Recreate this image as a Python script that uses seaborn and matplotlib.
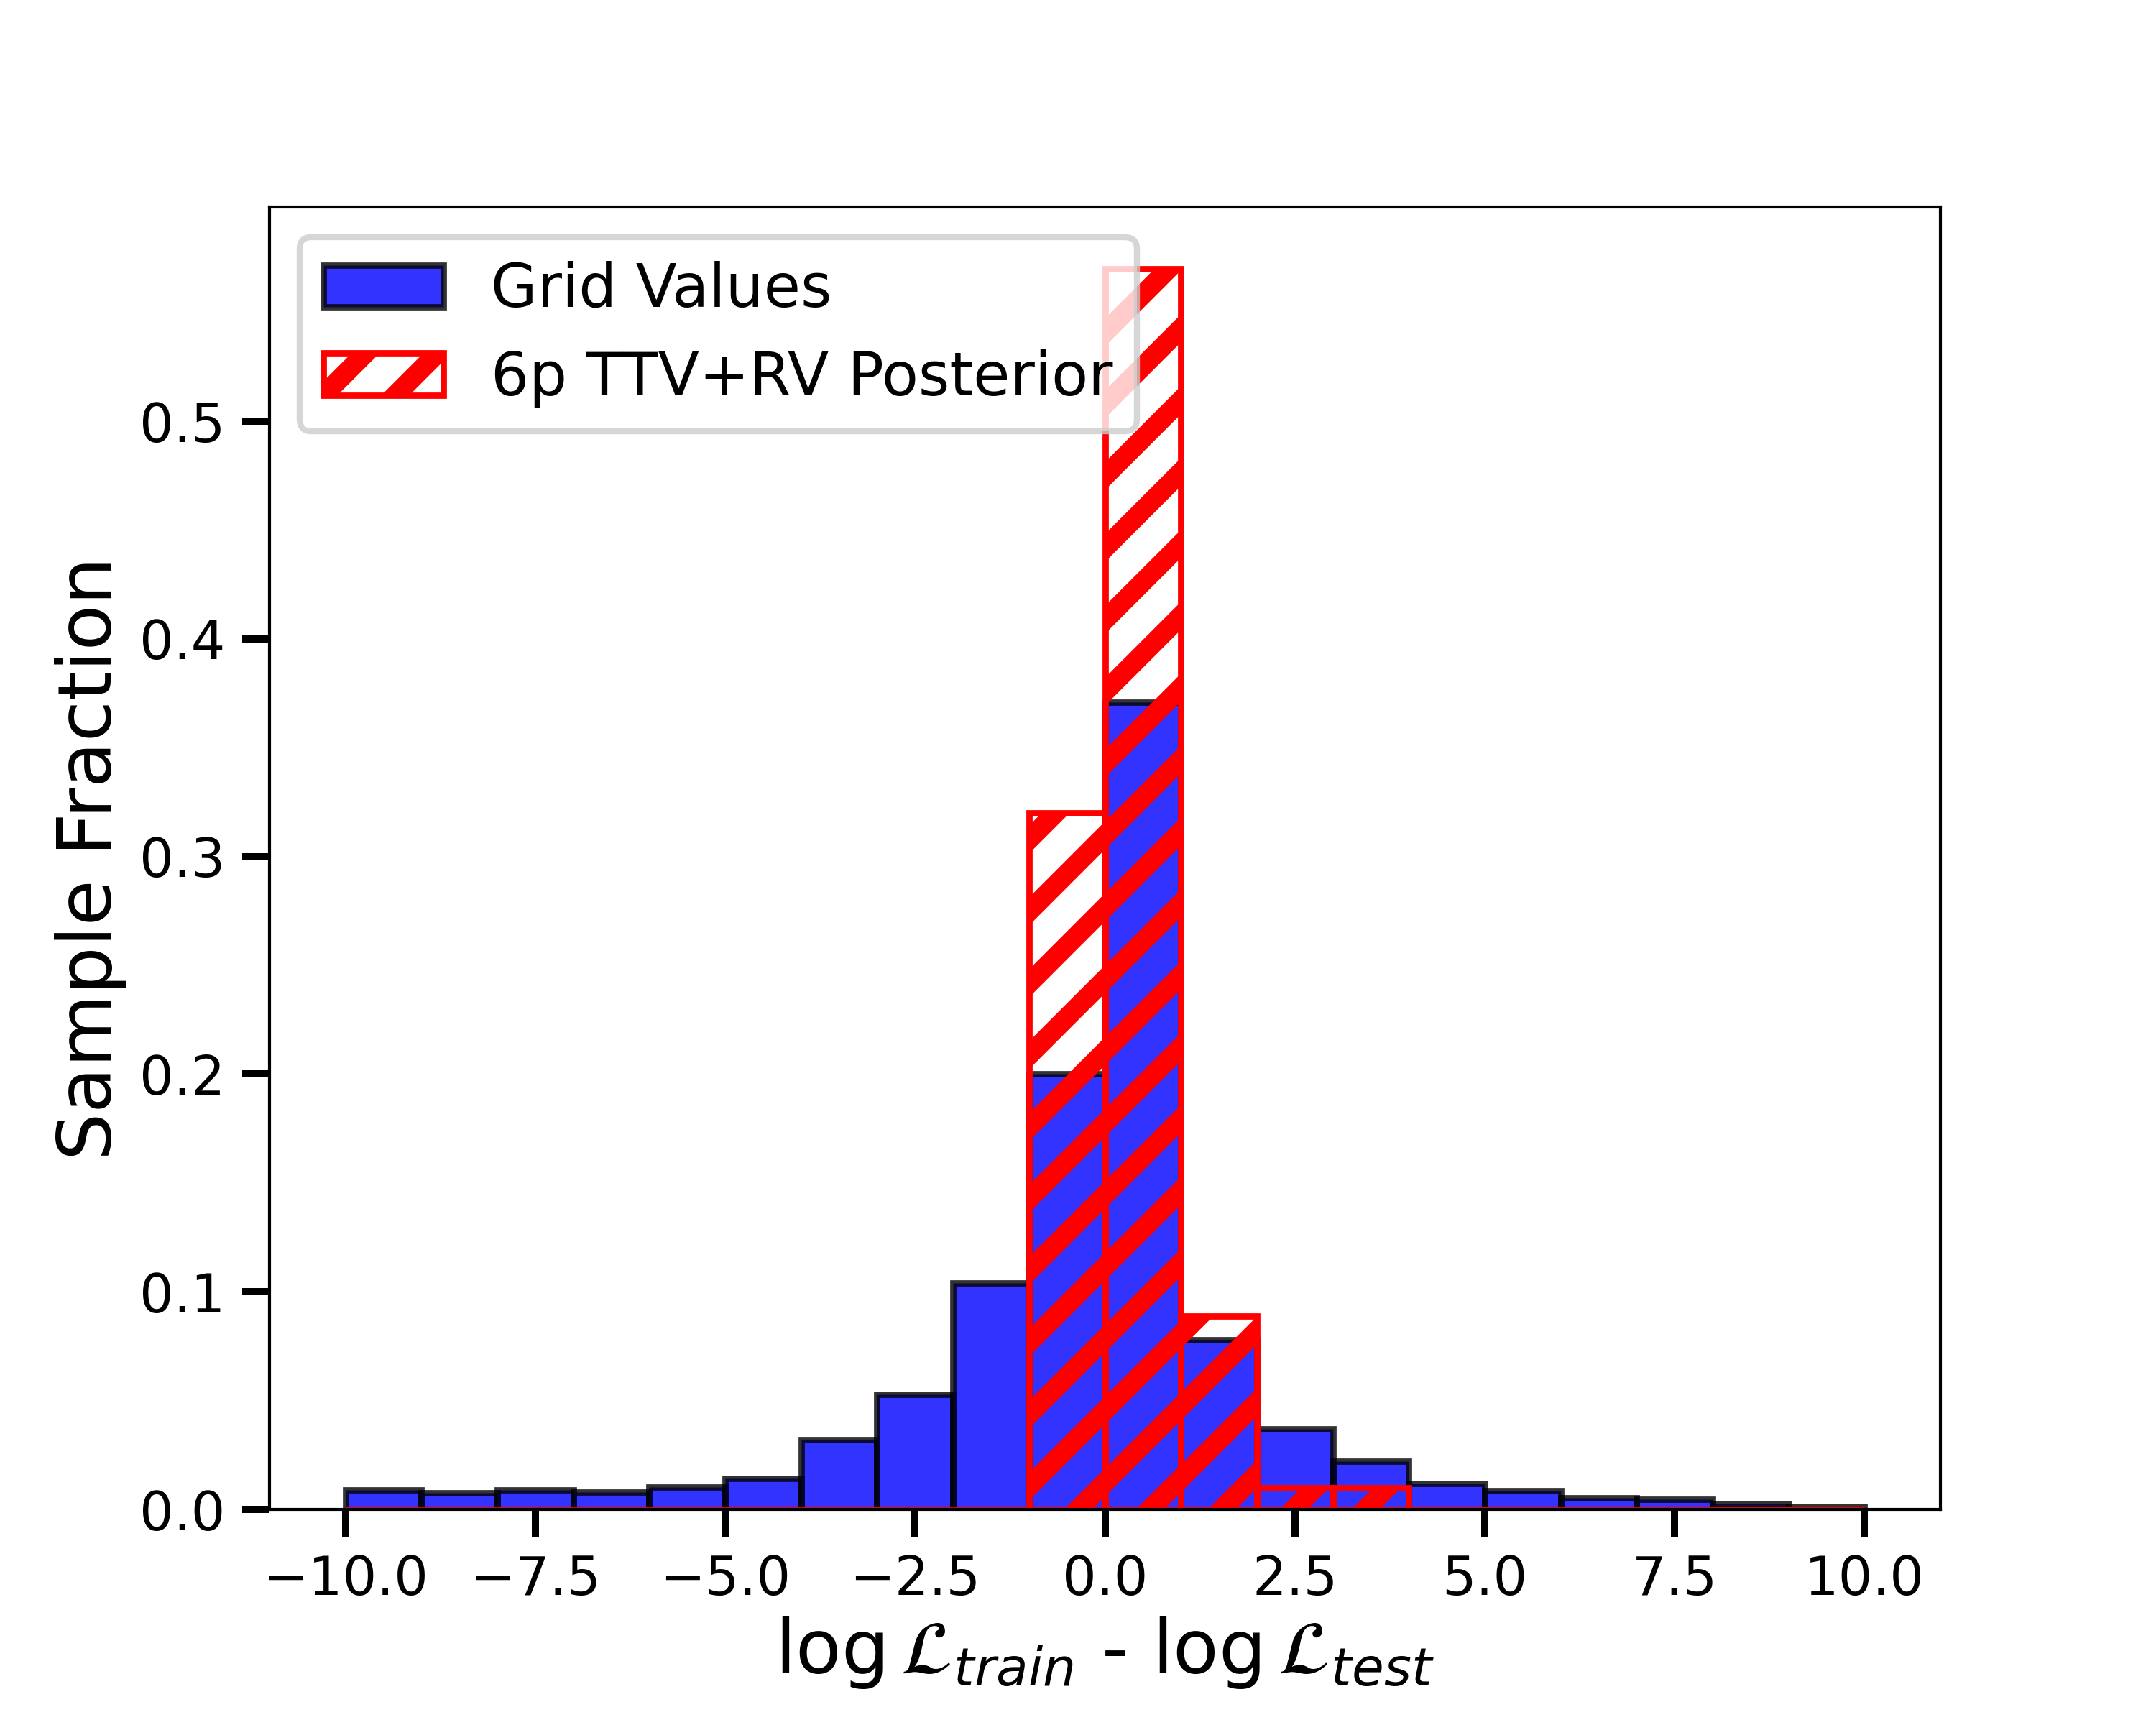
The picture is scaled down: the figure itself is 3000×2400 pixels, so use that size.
import pandas as pd
import seaborn as sns
import matplotlib.pyplot as plt

# bin edges of the histogram (width 1 from -10 to 10)
bin_edges = list(range(-10, 11))
bin_centers = [e + 0.5 for e in bin_edges[:-1]]

# sample fraction per bin
grid_values = [0.009, 0.0075, 0.009, 0.008, 0.0103, 0.0141, 0.032, 0.053,
               0.104, 0.200, 0.371, 0.078, 0.037, 0.022, 0.012, 0.0086,
               0.0052, 0.0047, 0.0026, 0.0014]
posterior_values = [0, 0, 0, 0, 0, 0, 0, 0, 0, 0.32, 0.57, 0.089, 0.01,
                    0.01, 0, 0, 0, 0, 0, 0]

df = pd.DataFrame({'dlogL': bin_centers, 'grid': grid_values,
                   'post': posterior_values})

plt.rcParams['hatch.linewidth'] = 3.3
plt.rcParams['xtick.major.size'] = 4.6
plt.rcParams['ytick.major.size'] = 4.6
plt.rcParams['xtick.major.width'] = 1.2
plt.rcParams['ytick.major.width'] = 1.2
plt.rcParams['xtick.major.pad'] = 2.8
plt.rcParams['ytick.major.pad'] = 2.8
plt.rcParams['axes.linewidth'] = 0.5

fig, ax = plt.subplots(figsize=(5, 4))
fig.subplots_adjust(left=0.125, right=0.9, top=0.88, bottom=0.125)

sns.histplot(data=df, x='dlogL', weights='grid', bins=bin_edges, ax=ax,
             color='blue', alpha=0.8, edgecolor=(0, 0, 0, 0.8), linewidth=1.05,
             label='Grid Values')
sns.histplot(data=df, x='dlogL', weights='post', bins=bin_edges, ax=ax,
             fill=False, color='red', edgecolor='red', linewidth=1.05,
             hatch='//', label='6p TTV+RV Posterior')

ax.set_xlabel(r'$\log\mathcal{L}_{train}$ - $\log\mathcal{L}_{test}$',
              fontsize=12.5, labelpad=1.5)
ax.set_ylabel('Sample Fraction', fontsize=12.5, labelpad=2)
ax.tick_params(labelsize=9)
ax.legend(loc='upper left', fontsize=10)

fig.savefig('out.png', dpi=600)
